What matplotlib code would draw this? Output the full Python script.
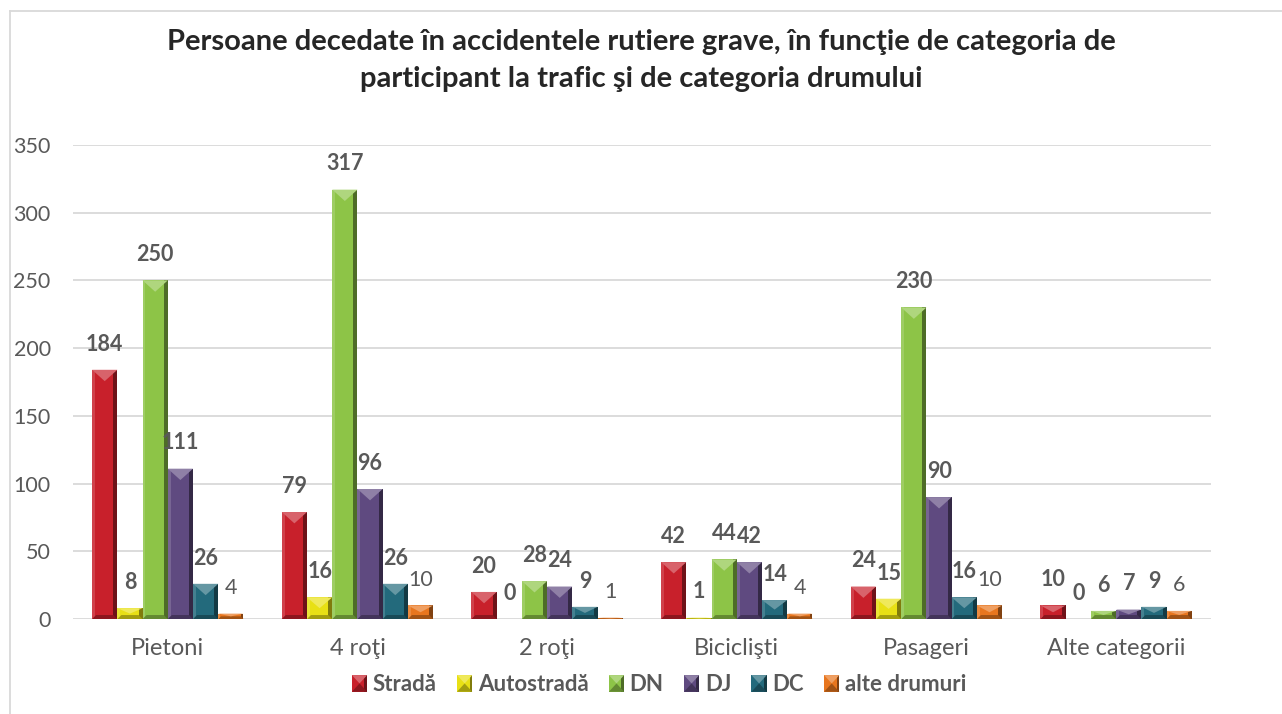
import numpy as np
import matplotlib
matplotlib.use('Agg')
import matplotlib.pyplot as plt
from matplotlib.patches import Polygon, Rectangle
from matplotlib.lines import Line2D
from matplotlib.legend_handler import HandlerBase
from matplotlib.colors import to_rgb

categories = ['Pietoni', '4 roţi', '2 roţi', 'Biciclişti', 'Pasageri', 'Alte categorii']
series = ['Stradă', 'Autostradă', 'DN', 'DJ', 'DC', 'alte drumuri']
strada = [184, 79, 20, 42, 24, 10]
autostrada = [8, 16, 0, 1, 15, 0]
dn = [250, 317, 28, 44, 230, 6]
dj = [111, 96, 24, 42, 90, 7]
dc = [26, 26, 9, 14, 16, 9]
alte = [4, 10, 1, 4, 10, 6]
colors = ['#C8202B', '#E8E015', '#8DC447', '#5F4A80', '#236A7C', '#E8761E']
title = ('Persoane decedate în accidentele rutiere grave, în funcţie de categoria de\n'
         'participant la trafic şi de categoria drumului')

FONT = ['Lato', 'DejaVu Sans']
GREY = '#595959'

def mix(c, other, f):
    c = np.array(to_rgb(c)); o = np.array(to_rgb(other))
    return tuple(c * (1 - f) + o * f)

def bevel(ax, x0, y0, w, h, color, sx, sy, z=2):
    # sx, sy: data units per pixel
    x1, y1 = x0 + w, y0 + h
    wp, hp = w / sx, h / sy
    if hp <= 0:
        return
    s = min(4.0, wp / 2, hp / 2)
    t = min(wp * 0.45, hp / 2)
    ax.add_patch(Rectangle((x0, y0), w, h, fc=color, ec='none', zorder=z))
    ax.add_patch(Rectangle((x0, y0), s * 0.7 * sx, h, fc=mix(color, 'white', 0.15), ec='none', zorder=z))
    ax.add_patch(Rectangle((x1 - s * sx, y0), s * sx, h, fc=mix(color, 'black', 0.45), ec='none', zorder=z))
    ax.add_patch(Polygon([(x0, y0), (x1, y0), (x1 - s * sx, y0 + s * sy), (x0 + s * sx, y0 + s * sy)],
                         closed=True, fc=mix(color, 'black', 0.3), ec='none', zorder=z))
    ax.add_patch(Polygon([(x0, y1), (x1, y1), ((x0 + x1) / 2, y1 - t * sy)],
                         closed=True, fc=mix(color, 'white', 0.3), ec='none', zorder=z))

class BevelHandler(HandlerBase):
    def create_artists(self, legend, orig, xd, yd, width, height, fontsize, trans):
        c = orig.get_facecolor()
        w, h = 11.0, 12.0
        x0, y0 = xd + width - w, -yd + (height - h) / 2
        s = 2.0
        arts = [Rectangle((x0, y0), w, h, fc=c, ec='none', transform=trans),
                Polygon([(x0 + w - s, y0), (x0 + w, y0), (x0 + w, y0 + h), (x0 + w - s, y0 + h)],
                        fc=mix(c, 'black', 0.45), ec='none', transform=trans),
                Polygon([(x0, y0 + h), (x0 + w, y0 + h), (x0 + w / 2, y0 + h / 2)],
                        fc=mix(c, 'white', 0.3), ec='none', transform=trans),
                Polygon([(x0, y0), (x0 + w, y0), (x0 + w / 2, y0 + h / 2)],
                        fc=mix(c, 'black', 0.3), ec='none', transform=trans)]
        return arts

W, H, DPI = 12.82, 7.14, 100
fig = plt.figure(figsize=(W, H), dpi=DPI)
ax = fig.add_axes([0.0569, 0.133, 0.8877, 0.664])
ax.set_xlim(-0.5, 5.5)
ax.set_ylim(0, 350)

sx = 6.0 / (0.8877 * W * DPI)
sy = 350.0 / (0.664 * H * DPI)

data = [strada, autostrada, dn, dj, dc, alte]
bw = 0.133
x = np.arange(len(categories))
for i, (vals, col) in enumerate(zip(data, colors)):
    for xi, v in zip(x, vals):
        x0 = xi + (i - 3) * bw
        bevel(ax, x0, 0, bw, v, col, sx, sy)
        ax.annotate(str(v), (x0 + bw / 2, v), xytext=(0, 18.5), textcoords='offset points',
                    ha='center', va='center', fontsize=15.5, color=GREY,
                    fontweight='normal' if i == 5 else 'bold', family=FONT)

ax.set_yticks(np.arange(0, 351, 50))
ax.yaxis.grid(True, color='#D9D9D9', linewidth=1.3)
ax.set_axisbelow(True)
for sp in ax.spines.values():
    sp.set_visible(False)
ax.tick_params(length=0)
ax.tick_params(axis='y', pad=16, labelsize=15.5, labelcolor=GREY)
ax.tick_params(axis='x', pad=14, labelsize=17, labelcolor=GREY)
ax.set_xticks(x)
ax.set_xticklabels(categories, family=FONT)
for lab in ax.get_yticklabels():
    lab.set_family(FONT)

handles = [Rectangle((0, 0), 1, 1, fc=c) for c in colors]
leg = fig.legend(handles, series, loc='center', bbox_to_anchor=(0.514, 0.041), ncol=6, frameon=False,
                 handler_map={Rectangle: BevelHandler()}, handlelength=0.7, handletextpad=0.25,
                 columnspacing=0.9, prop={'family': FONT, 'weight': 'bold', 'size': 16})
for t in leg.get_texts():
    t.set_color(GREY)

fig.text(0.5, 0.915, title, ha='center', va='center', fontsize=21, fontweight='bold',
         color='#262626', family=FONT, linespacing=1.5)

# chart frame
fig.add_artist(Line2D([10 / 1282, 10 / 1282], [0, 1 - 11 / 714], transform=fig.transFigure,
                      color='#D9D9D9', linewidth=1.3))
fig.add_artist(Line2D([10 / 1282, 1], [1 - 11 / 714, 1 - 11 / 714], transform=fig.transFigure,
                      color='#D9D9D9', linewidth=1.3))

fig.savefig('out.png', dpi=DPI)
